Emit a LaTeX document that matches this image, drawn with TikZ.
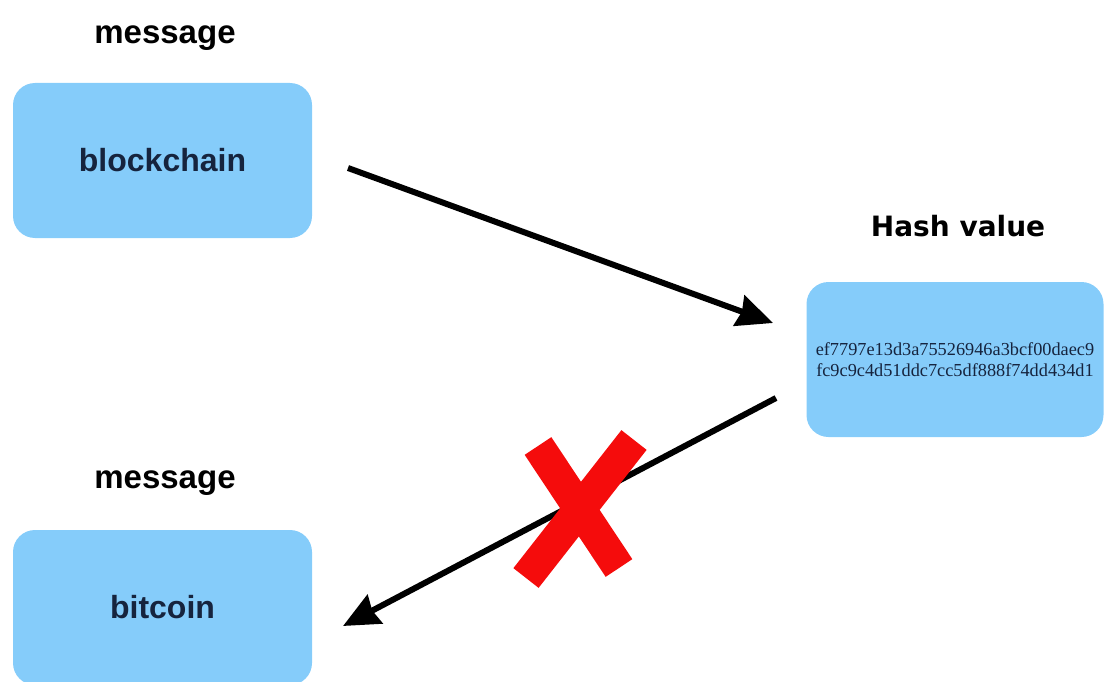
\documentclass[tikz,border=0pt]{standalone}
\usepackage{fontspec}
\setmainfont{Liberation Sans}
\newfontfamily\verd{DejaVu Sans}
\newfontfamily\tms{Liberation Serif}
\usetikzlibrary{arrows.meta}
\definecolor{boxblue}{RGB}{133,204,250}
\definecolor{navy}{RGB}{22,36,62}
\definecolor{xred}{RGB}{245,12,12}
\tikzset{
  msgbox/.style={fill=boxblue, rounded corners=22pt, minimum width=299pt, minimum height=155pt, inner sep=0pt, text=navy, font=\fontsize{32}{36}\selectfont\bfseries},
  lbl/.style={font=\fontsize{33}{36}\selectfont\bfseries, text=black, inner sep=0pt},
  conn/.style={line width=6pt, -{Stealth[length=36pt,width=32pt,inset=3pt]}},
  xstroke/.style={line width=32pt, xred, line cap=butt}
}
\begin{document}
\begin{tikzpicture}[x=1pt,y=-1pt]
\useasboundingbox (0,0) rectangle (1105,682);
\node[lbl] (m1) at (165,38) {message};
\node[msgbox] (blk) at (162.5,160.5) {blockchain};
\node[font=\verd\fontsize{28}{32}\selectfont\bfseries, inner sep=0pt] (hv) at (958,226) {Hash value};
\node[msgbox, minimum width=297pt, minimum height=155pt, font=\tms\fontsize{18.3}{21}\selectfont, align=center] (hash) at (955,359.5) {ef7797e13d3a75526946a3bcf00daec9\\fc9c9c4d51ddc7cc5df888f74dd434d1};
\node[lbl] (m2) at (165,483) {message};
\node[msgbox] (btc) at (162.5,607.5) {bitcoin};
\coordinate (a1s) at (348,168);
\coordinate (a1e) at (773,323);
\coordinate (a2s) at (776,398);
\coordinate (a2e) at (343,626);
\draw[conn] (a1s) -- (a1e);
\draw[conn] (a2s) -- (a2e);
\coordinate (x1a) at (538,446);
\coordinate (x1b) at (619,568);
\coordinate (x2a) at (634,440);
\coordinate (x2b) at (526,578);
\draw[xstroke] (x1a) -- (x1b);
\draw[xstroke] (x2a) -- (x2b);
\end{tikzpicture}
\end{document}
